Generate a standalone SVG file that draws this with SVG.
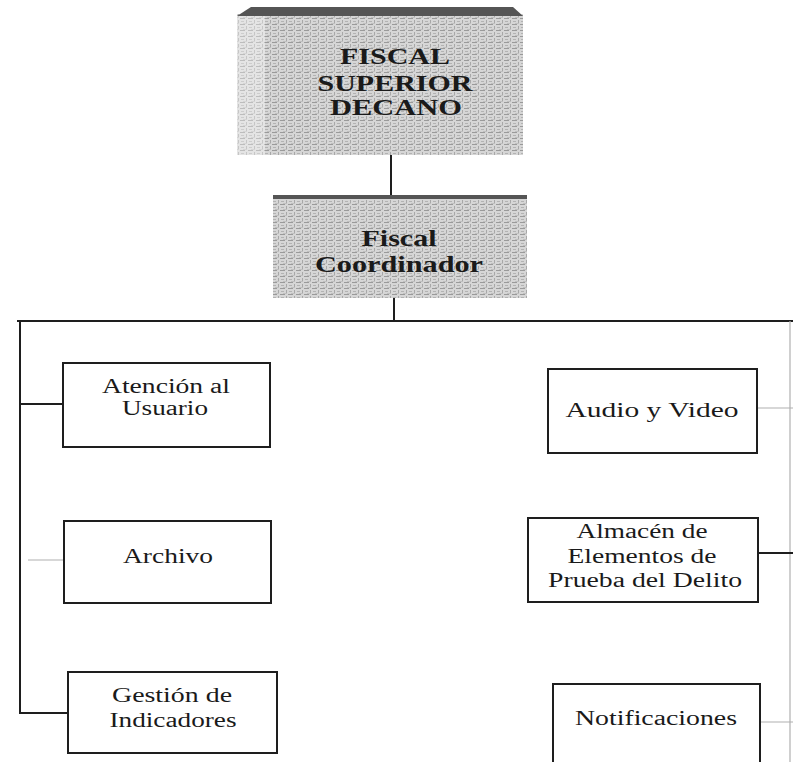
<svg xmlns="http://www.w3.org/2000/svg" width="793" height="762" viewBox="0 0 793 762">
<style>
.box{fill:#fff;stroke:#1e1e1e;stroke-width:2}
.t{font-family:"Liberation Serif","DejaVu Serif",serif;font-size:20px;fill:#1a1a1a;text-anchor:middle}
.tb{font-family:"Liberation Serif","DejaVu Serif",serif;font-size:23px;font-weight:bold;fill:#1a1a1a;text-anchor:middle}
.c{stroke:#1e1e1e;stroke-width:2;fill:none}
.cl{stroke:#b0b0b0;stroke-width:1.2;fill:none}
</style>
<defs>
<pattern id="tex" width="8" height="6" patternUnits="userSpaceOnUse">
<rect width="8" height="6" fill="#d6d6d6"/>
<rect x="0" y="0" width="5" height="1" fill="#9a9a9a"/>
<rect x="6" y="2" width="1" height="3" fill="#a8a8a8"/>
<rect x="1" y="3" width="3" height="1" fill="#b3b3b3"/>
<rect x="3" y="5" width="4" height="1" fill="#bfbfbf"/>
</pattern>
</defs>
<rect width="793" height="762" fill="#fff"/>

<g id="connectors">
<line class="c" x1="391" y1="155" x2="391" y2="197"/>
<line class="c" x1="394" y1="298" x2="394" y2="321"/>
<line class="c" x1="17" y1="321" x2="793" y2="321"/>
<line class="c" x1="20" y1="321" x2="20" y2="714"/>
<line class="c" x1="20" y1="404" x2="63" y2="404"/>
<line class="cl" x1="28" y1="560" x2="63" y2="560"/>
<line class="c" x1="20" y1="713" x2="68" y2="713"/>
<line class="cl" x1="790" y1="321" x2="790" y2="762"/>
<line class="cl" x1="758" y1="408" x2="793" y2="408"/>
<line class="c" x1="758" y1="553" x2="793" y2="553"/>
<line class="cl" x1="760" y1="722" x2="793" y2="722"/>
</g>

<g id="fiscal-superior">
<rect x="237" y="14" width="286" height="141" fill="url(#tex)"/>
<rect x="237" y="16" width="28" height="139" fill="#fff" opacity="0.35"/>
<polygon points="251,7 513,7 523,16 237,16" fill="#555"/>
<text class="tb" x="395" y="64" textLength="110" lengthAdjust="spacingAndGlyphs">FISCAL</text>
<text class="tb" x="395" y="91" textLength="155" lengthAdjust="spacingAndGlyphs">SUPERIOR</text>
<text class="tb" x="396" y="115" textLength="132" lengthAdjust="spacingAndGlyphs">DECANO</text>
</g>

<g id="fiscal-coordinador">
<rect x="273" y="197" width="254" height="101" fill="url(#tex)"/>
<rect x="273" y="195" width="254" height="4" fill="#555"/>
<text class="tb" x="399" y="246" textLength="75" lengthAdjust="spacingAndGlyphs">Fiscal</text>
<text class="tb" x="399" y="272" textLength="168" lengthAdjust="spacingAndGlyphs">Coordinador</text>
</g>

<g id="atencion">
<rect class="box" x="63" y="363" width="207" height="84"/>
<text class="t" x="166" y="393" textLength="128" lengthAdjust="spacingAndGlyphs">Atención al</text>
<text class="t" x="165" y="415" textLength="86" lengthAdjust="spacingAndGlyphs">Usuario</text>
</g>

<g id="archivo">
<rect class="box" x="64" y="521" width="207" height="82"/>
<text class="t" x="168" y="563" textLength="90" lengthAdjust="spacingAndGlyphs">Archivo</text>
</g>

<g id="gestion">
<rect class="box" x="68" y="672" width="209" height="81"/>
<text class="t" x="172" y="702" textLength="120" lengthAdjust="spacingAndGlyphs">Gestión de</text>
<text class="t" x="173" y="727" textLength="127" lengthAdjust="spacingAndGlyphs">Indicadores</text>
</g>

<g id="audio-video">
<rect class="box" x="548" y="369" width="209" height="84"/>
<text class="t" x="652" y="417" textLength="173" lengthAdjust="spacingAndGlyphs">Audio y Video</text>
</g>

<g id="almacen">
<rect class="box" x="528" y="518" width="230" height="84"/>
<text class="t" x="642" y="538" textLength="131" lengthAdjust="spacingAndGlyphs">Almacén de</text>
<text class="t" x="642" y="563" textLength="149" lengthAdjust="spacingAndGlyphs">Elementos de</text>
<text class="t" x="645" y="587" textLength="194" lengthAdjust="spacingAndGlyphs">Prueba del Delito</text>
</g>

<g id="notificaciones">
<rect class="box" x="553" y="684" width="207" height="90"/>
<text class="t" x="656" y="725" textLength="162" lengthAdjust="spacingAndGlyphs">Notificaciones</text>
</g>
</svg>
